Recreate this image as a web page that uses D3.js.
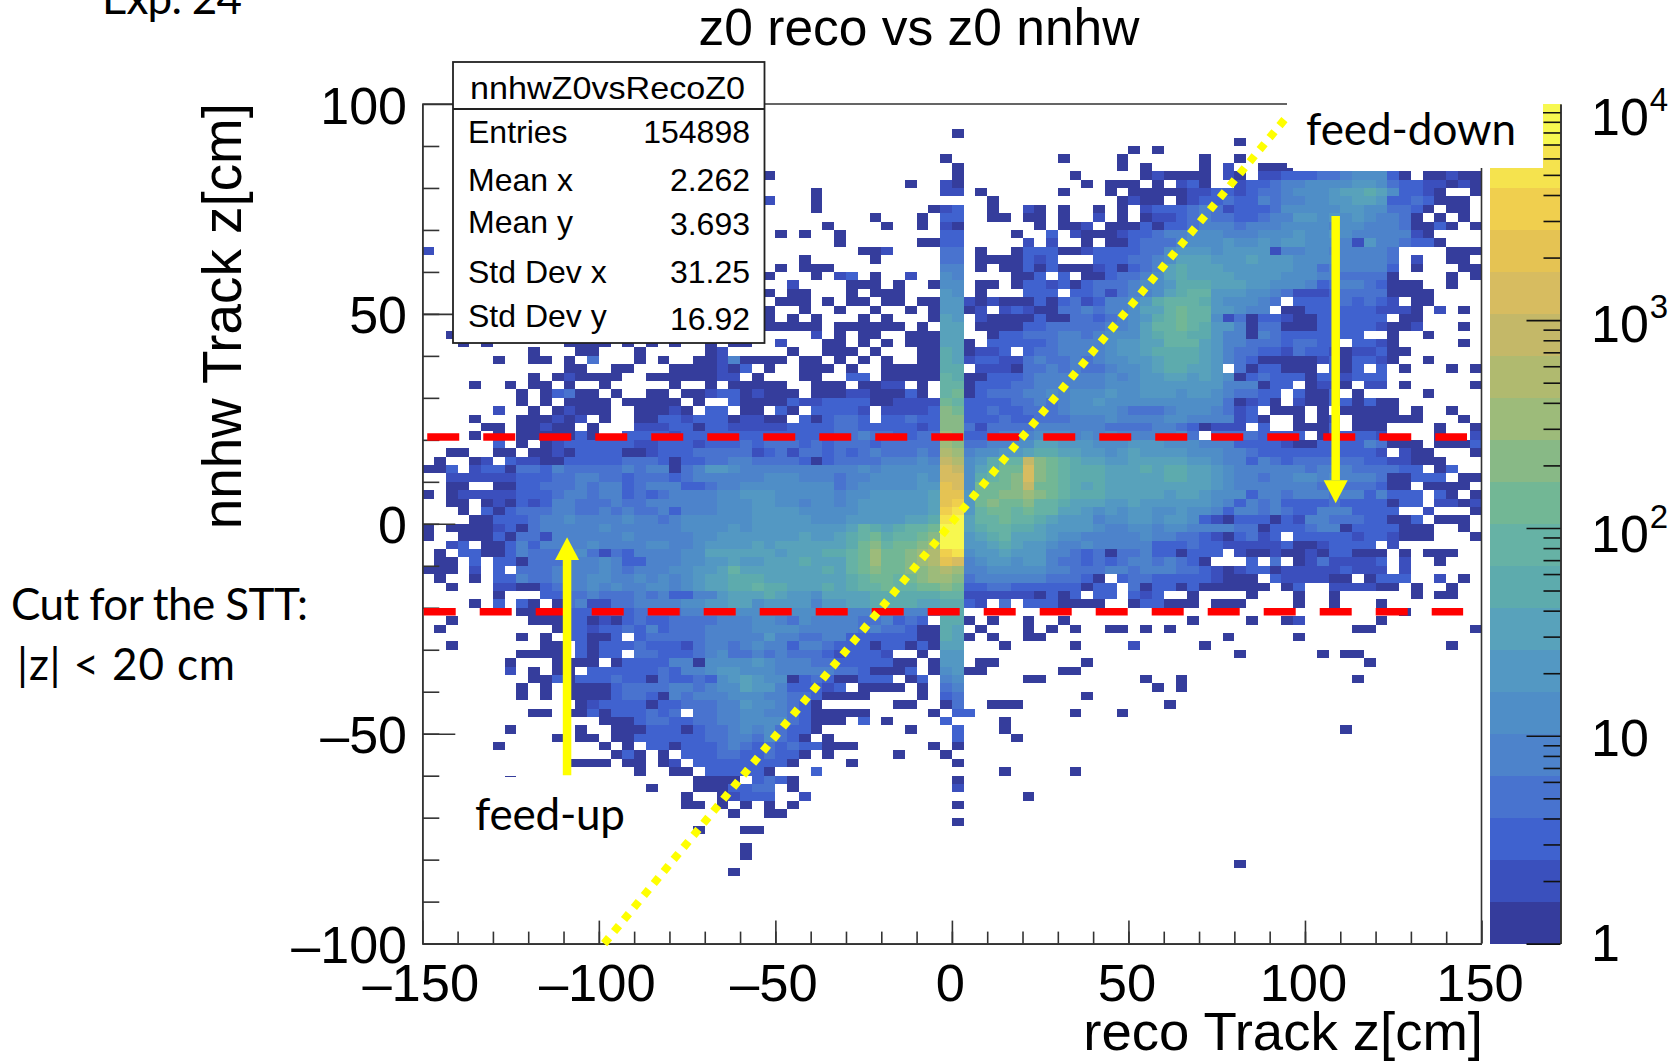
<!DOCTYPE html>
<html>
<head>
<meta charset="utf-8">
<script src="https://cdn.jsdelivr.net/npm/d3@7"></script>
<style>
  html, body { margin: 0; padding: 0; background: #fff; }
  svg { display: block; }
  text { fill: #000; }
  .root { font-family: "Liberation Sans", Arial, sans-serif; }
  .note { font-family: Lato, "Open Sans", sans-serif; }
</style>
</head>
<body>
<div id="chart"></div>
<script>
// colour bands of the palette, bottom to top
const bandColors = ['#353c9c', '#3a50bd', '#3f62cf', '#4873cf', '#4d83cb', '#4f8ec7', '#5398c3', '#58a2bb', '#5dabad', '#66b2a5',
  '#72b795', '#88b986', '#9dbb7a', '#b0ba6f', '#c4b868', '#d7bc60', '#e5c353', '#f0cf4e', '#f5e34e', '#f7f850']

// band read off each bin, top row first. groups of 10 columns, short groups are padded with empty bins
// . empty, 1-9, a=10 ... k=20
const bandRows = [
  '',
  '',
  '',
  '. . . . .....1',
  '. . . . . . .........1',
  '. . . . . . 1.1',
  '. . . . ....1 ....1....1 ......1..1',
  '. . . . .....1 .........1 .1....1.2. .111',
  '. . .........1 . .....1 .....1 .121111.21 .223334456 6631.11211',
  '. . . . .1..21 ......1.11 1.1.231..2 3345566667 7643322121',
  '. . . ...1 ....22.1 ....1...1 1111122332 3445666788 9863321..1',
  '. . .........2 ...1 ........1 .........1 211.123343 3545566778 873343111.',
  '. . . ...1 ...123..1 .21.1..1.1 .233345423 3346666677 664431.11.',
  '. . . ........1. ..1.33..11 .11.1..2.1 .122345443 3455776767 65541.1.1.',
  '. . . ....1....1 ..1.21 ..1.112.11 1313345554 5556666566 55541131.1',
  '. . . 1.1..1 ....33 1..3.21112 3345566655 5666766765 555521',
  '. . . .....1 ..1133 .2.2..1.11 3444566676 6767766652 7554331',
  '2 . . .......112 ....44.1 1333112333 3446777677 7725566555 554....111',
  '. . . ..1.....1. ....44.111 1323...333 4456888777 8777666655 554.2..11.',
  '. . . 1.111 ....55.1.1 1313111231 3458988877 7777664555 553.1...11',
  '. . .........1 ...1.23.1. .2..65 113.3.1134 4568988887 7776665544 441....1.1',
  '. . . .2....111. 1..166.11. 1332313444 5667999888 7766653455 43111..1',
  '. . .........1 .11...1.11 1...76.1 .333.33424 55689aa777 6654222344 441111',
  '. . . 111.1.11.1 1.11772121 1131342355 679aaa9766 654.333343 432.11',
  '. . .........1 ..1..1..1. .1.17712.2 3211445455 688abaa776 55.1133333 32221.2.1.',
  '. . .........1 .1.1...1.1 ...187.211 1131144345 679abaa624 1332113333 33.11',
  '. . .........1 1111.11111 1.1.88.111 1334444455 68aaba9775 1441113333 32112...1.',
  '..1 . . ...2.1.11. .11188..13 3444554566 689aa99755 1543333333 ..1..1',
  '...1.1 ..1111.1.1 .1..1.11 2...11.1.1 .111881.33 3334555567 788aaa8755 44434433.3 321.....1.',
  '.........1 ...11...1. ....12 .1..111.1. ..11981223 .344555567 7899998754 4332433212 2311',
  '......1..1 1.1.4...1. 1..1125111 1.11.1.1.1 ..11982332 2454454566 7789998754 3111112313 321..1',
  '. ..11..11 .1111213.1 ..111.1..1 111199.222 1445454456 67899887.4 133111.313 .3.1...1.1',
  '.........1 .121111..1 1111122.1. ..11..33.1 1111a91133 3455555565 6778878761 3433313323 33',
  '....1..1.1 1.1..1 .1..1.1111 1..111.112 2.1.aa1333 4455555566 6777777755 5133.1221. 22.1.....1',
  '........1. 13411.1..1 1.11233121 11.1112211 131.ab1344 4556566676 6777677654 433.3113.1 .....1',
  '........1. 1.1111.111 11.1..3111 1322333311 2222ba3333 4454566766 6666666641 231.211331 311',
  '......2..1 .12111..11 121.33.11. 31.33332.2 2223cb3343 3444566665 4445666542 3.111.1.11 111.1..1',
  '....1...11 1212.1..11 3323331221 1.313443.3 3433cc3334 3344455565 5556655552 31..1.12.1 11111...1.',
  '.....11.11 211.1...22 2331332222 2333344333 3323cc4244 4455555544 4455431222 .3..1113.1 11....1..1',
  '....1.1.11 11131..333 3233333333 3333344544 3344dc3345 5566656565 555564.444 43333.1333 32....1..2',
  '......3.1. 1233333322 3332333434 4434344434 4444dc4455 6688777666 7776665553 3332113333 54111.1113',
  '..11..11.1 1213333112 3334444423 4244343454 4454ed5667 7899887767 8777766655 4333333333 32.211...1',
  '.1..12.322 1133333444 3133445544 4431344445 5565fe679a afcba98877 8888877655 3543444444 3322111',
  '113.233144 3544444545 5145776555 5555555656 6666gf689b bgcba99988 8989988765 5555545554 44433.13',
  '..22222233 3445544344 4345555556 6655545566 6676gg69ab cgcba99988 8889988765 5455665655 5411333.11',
  '..11..1133 4445455345 5533455666 6666645666 6677hg6bbb cfbba98988 8888888765 5555554544 4311.1111.',
  '1.12222233 3455455343 4555566777 6666656677 7778hh7bbc cdcba99988 8887887666 3554555455 35333.31.1',
  '..11.12132 3554445445 5555566677 6656656777 7778hi7bcb bcaa988877 8777777653 5453333433 33133.2212',
  '...1.31344 4554454544 5355566677 7766666777 7778ij7abb abaa887676 7766766535 5454335553 333..2...1',
  '....113334 5565555655 4566666677 7776667777 7889jk8aab aa98777566 7767763213 3313255444 33113.111.',
  '1.11112314 5555565555 5566667677 7777778a98 9aabkk89aa 9987777655 6656655554 4133345513 333111..1.',
  '1..1113144 2555555655 5556677777 7787789ab9 aabckk789a 8887665555 5655443213 423.333332 332111...1',
  '..23.11353 5555655556 6556777787 8888889bca bbcdkk7789 8776556555 5533343322 2223112333 3.2',
  '.1.3311354 4456424355 5566888888 788899abdb bcdeij6778 7775543414 45331333.2 1121121331 11.1.111',
  '.11.3.3314 4455565335 5566778778 889888abdb bcdehg5677 6775443434 5545431... 3.4.124222 23.2..1',
  '111.2.3.44 4555565455 566778a888 888898abcb bccded5566 6665544455 4555443212 3312222232 22.2',
  '.1..1.3354 4555665565 6567889998 8888889abb abcddc4555 55544431.3 4433333211 1.3222211. 1333..2.1.',
  '..1...2211 3455656556 65678899a9 9888989aab aabbcb3344 333333133. 4133131111 11.13..222 211.1..1',
  '......1 3344544454 5335578889 8776888899 9999aa2222 221313.33. 323..1 1...1..1 ....1.11',
  '....1.3.31 .145224455 5566778867 7775778899 99889932.4 .3331111 133111.111 ....1..1 .1',
  '........11 1133334344 4455676666 6666655566 555599 . . . ...1',
  '..1......1 1133121343 3444455566 5465555445 343.991.1. .1..1 .....1 1..12 .1',
  '.1 .133233435 3444555566 6655555454 431198.1 .1.1.1..11 .1.1 .........1 1........1',
  '........1. 1.33113.34 4444555557 5544553333 3311981.1. .11 ........1. ....1',
  '..1 11.3133343 3324554565 5355433313 313188...1 .....1 2.....1 . .......1',
  '........11 11.3133.44 3334564454 5444323332 ..1.77 . .........1 ......1.11',
  '.......1 .1111.1333 3551666676 5554433333 11.177.11. ......1 . . 1',
  '.......2.1 .11.333333 4355677666 5555544311 13.16711 ....11',
  '.........1 1313334331 4334367876 6134311333 .13.56 .11 .1..1 .........1',
  '........1. 1.11113444 4554566877 533323.111 1.1.45 . ..1.1',
  '........1. 1.11113443 1545556665 54431111 ..1.34 ......1',
  '. ...1233331 3344455766 5431 11..14..11 1 ...1',
  '.........1 1.11313334 34.4455665 54311111 ...1.33 .....1...1',
  '. .....11134 4334455666 643111.3.1 ....3....1',
  '.......1 ...1..1113 3313445656 4331 .1...3...1 . . ........1',
  '. .1.11.1133 3333445546 431.1 .....3 1',
  '......1 .....1.1.3 3133345434 3433111 ...1.1',
  '. ......131. 1.33344334 331.1 1...1',
  '. ..1111.11. 12.3333333 31....1 .....1',
  '. ........1. .11.333331 ...3 .........1 .....1',
  '.......1 . ...1111.34 31 .....1',
  '. .........1 ...1113344 .1 .....2',
  '. . ..1..12333 ..2 . .1',
  '. . ..11.1.1.1 .1 .....1',
  '. . ......1..1 1',
  '. . . . .....1',
  '. . ...1...11.',
  '',
  '. . .......1',
  '. . .......1',
  '. . . . . . .........1',
  '. . ......1',
  '', '', '', '', '', '', '', ''
]

const xMajor = [-150, -100, -50, 0, 50, 100, 150]
const xMinor = d3.range(-140, 150, 10)
const yMajor = [-100, -50, 0, 50, 100]
const yMinor = d3.range(-90, 100, 10)
const xLabels = ['–150', '–100', '–50', '0', '50', '100', '150']
const yLabels = ['–100', '–50', '0', '50', '100']
const zMajor = [1, 10, 100, 1000, 10000]
const zMinor = [2, 3, 4, 5, 6, 7, 8, 9, 20, 30, 40, 50, 60, 70, 80, 90, 200, 300, 400, 500, 600, 700, 800, 900,
  2000, 3000, 4000, 5000, 6000, 7000, 8000, 9000]
const zLabels = [['1', ''], ['10', ''], ['10', '2'], ['10', '3'], ['10', '4']]
const statNames = ['Entries', 'Mean x', 'Mean y', 'Std Dev x', 'Std Dev y']
const statValues = ['154898', '2.262', '3.693', '31.25', '16.92']

const width = 1678,
  height = 1064,
  plotLeft = 422.3,
  plotRight = 1481.5,
  plotTop = 104,
  plotBottom = 943.6

const nCols = 90,
  nRows = 100,
  zMax = Math.pow(10, 4.04),
  levels = '123456789abcdefghijk'

const x = d3.scaleLinear().domain([-150, 150]).range([plotLeft, plotRight])
const y = d3.scaleLinear().domain([-100, 100]).range([plotBottom, plotTop])
const col = d3.scaleBand().domain(d3.range(nCols)).range([plotLeft, plotRight])
const row = d3.scaleBand().domain(d3.range(nRows)).range([plotTop, plotBottom])
const z = d3.scaleLog().domain([1, zMax]).range([plotBottom, plotTop])
const color = d3.scaleQuantize().domain([0, Math.log10(zMax)]).range(bandColors)

// turn the rows into bins with a count in the middle of their band
const bandWidth = Math.log10(zMax) / bandColors.length
let bins = []
bandRows.forEach((text, r) => {
  let cells = text
    .split(' ')
    .map(g => g.padEnd(10, '.').slice(0, 10))
    .join('')
  for (let c = 0; c < nCols; c++) {
    let band = levels.indexOf(cells[c])
    if (band >= 0) bins.push({ r: r, c: c, count: Math.pow(10, (band + 0.5) * bandWidth) })
  }
})

const svg = d3.select('#chart').append('svg').attr('width', width).attr('height', height)

// the reference is a slightly soft screenshot
svg
  .append('defs')
  .append('filter')
  .attr('id', 'soft')
  .append('feGaussianBlur')
  .attr('stdDeviation', 0.6)

// heat map
svg
  .append('g')
  .attr('shape-rendering', 'crispEdges')
  .attr('filter', 'url(#soft)')
  .selectAll('rect')
  .data(bins)
  .enter()
  .append('rect')
  .attr('x', d => col(d.c))
  .attr('y', d => row(d.r))
  .attr('width', col.bandwidth())
  .attr('height', row.bandwidth())
  .attr('fill', d => color(Math.log10(d.count)))

// frame and ticks
const axisColor = '#333'
function drawAxis(axis, tx, ty) {
  let g = svg.append('g').attr('transform', 'translate(' + tx + ',' + ty + ')').call(axis)
  g.selectAll('path,line').attr('stroke', axisColor).attr('stroke-width', 1.6)
  g.selectAll('text').remove()
  return g
}
drawAxis(d3.axisBottom(x).tickValues(xMinor).tickSize(-12).tickSizeOuter(0), 0, plotBottom)
drawAxis(d3.axisBottom(x).tickValues(xMajor).tickSize(-23).tickSizeOuter(0), 0, plotBottom)
drawAxis(d3.axisRight(y).tickValues(yMinor).tickSize(17).tickSizeOuter(0), plotLeft, 0)
drawAxis(d3.axisRight(y).tickValues(yMajor).tickSize(33).tickSizeOuter(0), plotLeft, 0)
svg
  .append('path')
  .attr('d', 'M' + plotLeft + ',' + plotTop + 'H' + plotRight + 'V' + plotBottom)
  .attr('fill', 'none')
  .attr('stroke', axisColor)
  .attr('stroke-width', 1.6)

// colour bar
const barLeft = 1489.5,
  barRight = 1560.5
svg
  .append('g')
  .attr('shape-rendering', 'crispEdges')
  .selectAll('rect')
  .data(bandColors)
  .enter()
  .append('rect')
  .attr('x', barLeft)
  .attr('width', barRight - barLeft)
  .attr('y', (d, i) => z(Math.pow(10, (i + 1) * bandWidth)))
  .attr('height', (d, i) => z(Math.pow(10, i * bandWidth)) - z(Math.pow(10, (i + 1) * bandWidth)))
  .attr('fill', d => d)
drawAxis(d3.axisLeft(z).tickValues(zMinor).tickSize(17).tickSizeOuter(0), barRight, 0).selectAll('line').attr('stroke', '#111')
drawAxis(d3.axisLeft(z).tickValues(zMajor).tickSize(34).tickSizeOuter(0), barRight, 0).selectAll('line').attr('stroke', '#111')

// tick labels
svg
  .append('g')
  .attr('class', 'root')
  .attr('font-size', 52.5)
  .attr('text-anchor', 'middle')
  .selectAll('text')
  .data(xMajor)
  .enter()
  .append('text')
  .attr('x', d => x(d) - 1.5)
  .attr('y', 1001)
  .text((d, i) => xLabels[i])
svg
  .append('g')
  .attr('class', 'root')
  .attr('font-size', 52)
  .attr('text-anchor', 'end')
  .selectAll('text')
  .data(yMajor)
  .enter()
  .append('text')
  .attr('x', 407)
  .attr('y', d => y(d) + 19.5)
  .text((d, i) => yLabels[i])

const zShift = [17, 20, 24, 22, 23]
let zText = svg
  .append('g')
  .attr('class', 'root')
  .selectAll('text')
  .data(zMajor)
  .enter()
  .append('text')
  .attr('x', 1591)
  .attr('y', (d, i) => z(d) + zShift[i])
  .attr('font-size', 52)
zText.append('tspan').text((d, i) => zLabels[i][0])
zText
  .append('tspan')
  .attr('font-size', 33)
  .attr('dy', -24)
  .attr('dx', 1)
  .text((d, i) => zLabels[i][1])

// titles
svg.append('text').attr('class', 'root').attr('x', 919).attr('y', 45).attr('font-size', 51.5).attr('text-anchor', 'middle').text('z0 reco vs z0 nnhw')
svg.append('text').attr('class', 'root').attr('x', 1483).attr('y', 1050).attr('font-size', 54.5).attr('text-anchor', 'end').text('reco Track z[cm]')
svg
  .append('text')
  .attr('class', 'root')
  .attr('transform', 'translate(241,103) rotate(-90)')
  .attr('font-size', 54.8)
  .attr('text-anchor', 'end')
  .text('nnhw Track z[cm]')

// stats box
const statX = 453,
  statY = 62,
  statW = 311.5,
  statH = 281,
  statBase = [143, 191, 233, 283, 327],
  valueBase = [143, 191, 235, 283, 330]
let stats = svg.append('g').attr('class', 'root')
stats.append('rect').attr('x', statX).attr('y', statY).attr('width', statW).attr('height', statH).attr('fill', '#fff').attr('stroke', '#222').attr('stroke-width', 1.8)
stats.append('line').attr('x1', statX).attr('x2', statX + statW).attr('y1', 109).attr('y2', 109).attr('stroke', '#222').attr('stroke-width', 1.8)
stats.append('text').attr('x', 470).attr('y', 99).attr('font-size', 32).attr('textLength', 275).attr('lengthAdjust', 'spacingAndGlyphs').text('nnhwZ0vsRecoZ0')
statNames.forEach((s, i) => {
  stats.append('text').attr('x', 468).attr('y', statBase[i]).attr('font-size', 32).text(s)
  stats.append('text').attr('x', 750).attr('y', valueBase[i]).attr('font-size', 32).attr('text-anchor', 'end').text(statValues[i])
})

// pasted overlays: white patches behind the labels, cut lines, arrows
const patches = [[1287, 102, 256, 66], [470, 777, 175, 77.5]]
svg.append('g').attr('shape-rendering', 'crispEdges').selectAll('rect').data(patches).enter().append('rect')
  .attr('x', d => d[0]).attr('y', d => d[1]).attr('width', d => d[2]).attr('height', d => d[3]).attr('fill', '#fff')

const cutLines = [[-148.6, 145.9, 20.67], [-149.6, 144.8, -20.95]]
svg.append('g').selectAll('line').data(cutLines).enter().append('line')
  .attr('x1', d => x(d[0])).attr('x2', d => x(d[1])).attr('y1', d => y(d[2])).attr('y2', d => y(d[2]))
  .attr('stroke', '#ff0000').attr('stroke-width', 7.5).attr('stroke-dasharray', '32 24')

const diagonal = [-98.5, -100, 94.6, 96.7]
svg.append('line').attr('x1', x(diagonal[0])).attr('y1', y(diagonal[1])).attr('x2', x(diagonal[2])).attr('y2', y(diagonal[3]))
  .attr('stroke', '#ffff00').attr('stroke-width', 8).attr('stroke-dasharray', '7.7 7.9')

// x, tail, head base, tip
const arrows = [[-109, -59.9, -8.6, -3.2], [108.7, 73.3, 10.4, 4.9]]
arrows.forEach(a => {
  let ax = x(a[0])
  svg.append('line').attr('x1', ax).attr('x2', ax).attr('y1', y(a[1])).attr('y2', y(a[2])).attr('stroke', '#ffff00').attr('stroke-width', 8.5)
  svg.append('path').attr('fill', '#ffff00')
    .attr('d', 'M' + (ax - 12) + ',' + y(a[2]) + 'L' + (ax + 12) + ',' + y(a[2]) + 'L' + ax + ',' + y(a[3]) + 'Z')
})

// slide notes, text and its width
const notes = [['Exp: 24', 102, 14, 140], ['feed-down', 1306, 145, 210], ['feed-up', 475, 830, 150], ['Cut for the STT:', 11, 620, 297], ['|z| < 20 cm', 17, 680, 218]]
svg.append('g').attr('class', 'note').attr('font-size', 44).selectAll('text').data(notes).enter().append('text')
  .attr('x', d => d[1]).attr('y', d => d[2]).attr('textLength', d => d[3]).text(d => d[0])
</script>
</body>
</html>
